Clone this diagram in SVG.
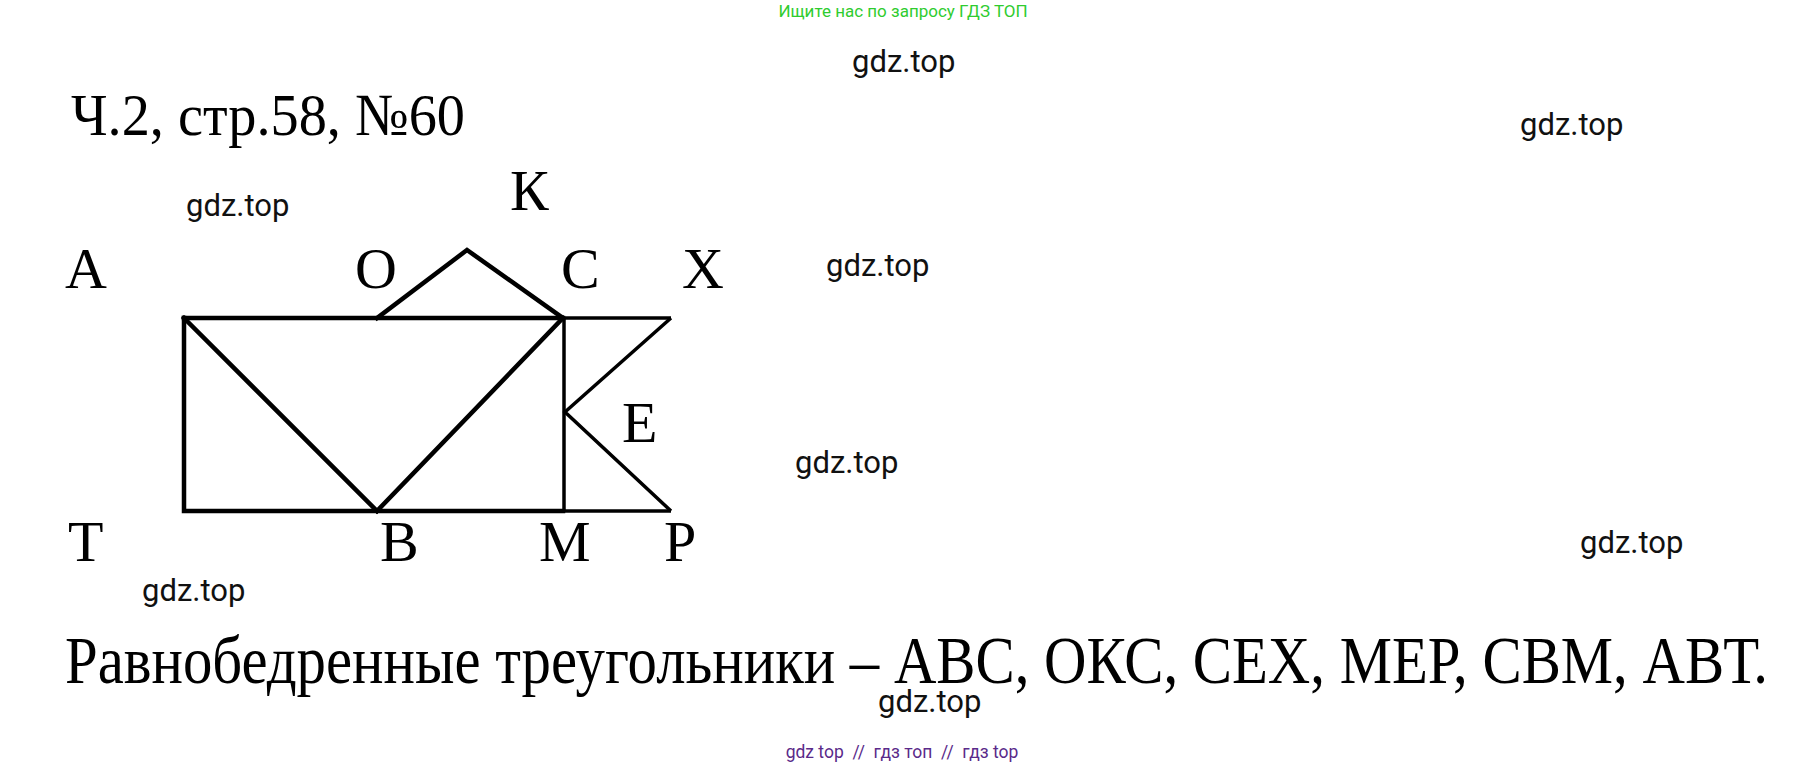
<svg xmlns="http://www.w3.org/2000/svg" width="1807" height="767" viewBox="0 0 1807 767">
<style>
.lbl{font-family:"Liberation Serif","Times New Roman",serif;font-size:58px;fill:#000}
.wm{font-family:Roboto,"Liberation Sans",sans-serif;font-size:31px;fill:#111}
.ln{stroke:#000;stroke-width:4.5;fill:none;stroke-linecap:square;stroke-linejoin:miter}
.ln2{stroke:#000;stroke-width:3.5;fill:none;stroke-linecap:butt}
</style>
<rect width="1807" height="767" fill="#fff"/>
<text x="903" y="17" text-anchor="middle" font-family="Roboto,'Liberation Sans',sans-serif" font-size="17" fill="#2fcc2f">Ищите нас по запросу ГДЗ ТОП</text>
<text x="71" y="135" font-family="'Liberation Serif','Times New Roman',serif" font-size="60" fill="#000" textLength="394" lengthAdjust="spacingAndGlyphs">Ч.2, стр.58, №60</text>
<g id="connectors">
<polyline class="ln" points="184,318 563,318"/>
<polyline class="ln" points="184,318 184,511 563,511"/>
<line class="ln" x1="184" y1="318" x2="377" y2="511"/>
<line class="ln" x1="563" y1="318" x2="377" y2="511"/>
<polyline class="ln" points="377,318 467,250 563,318"/>
<line class="ln2" x1="564" y1="318" x2="564" y2="511"/>
<line class="ln2" x1="563" y1="318" x2="671" y2="318"/>
<polyline class="ln2" points="671,318 565,412 671,511"/>
<line class="ln2" x1="563" y1="511" x2="671" y2="511"/>
</g>
<g id="node-A"><text class="lbl" x="65" y="288">А</text></g>
<g id="node-O"><text class="lbl" x="355" y="288">О</text></g>
<g id="node-C"><text class="lbl" x="561" y="288">С</text></g>
<g id="node-X"><text class="lbl" x="682" y="288">Х</text></g>
<g id="node-K"><text class="lbl" x="510" y="210">К</text></g>
<g id="node-E"><text class="lbl" x="622" y="442">Е</text></g>
<g id="node-T"><text class="lbl" x="68" y="561">Т</text></g>
<g id="node-B"><text class="lbl" x="380" y="561">В</text></g>
<g id="node-M"><text class="lbl" x="539" y="561">М</text></g>
<g id="node-P"><text class="lbl" x="664" y="561">Р</text></g>
<text x="65" y="683" font-family="'Liberation Serif','Times New Roman',serif" font-size="68" fill="#000" textLength="1703" lengthAdjust="spacingAndGlyphs">Равнобедренные треугольники – АВС, ОКС, СЕХ, МЕР, СВМ, АВТ.</text>
<text class="wm" x="852" y="72">gdz.top</text>
<text class="wm" x="1520" y="135">gdz.top</text>
<text class="wm" x="186" y="216">gdz.top</text>
<text class="wm" x="826" y="276">gdz.top</text>
<text class="wm" x="795" y="473">gdz.top</text>
<text class="wm" x="1580" y="553">gdz.top</text>
<text class="wm" x="142" y="601">gdz.top</text>
<text class="wm" x="878" y="712">gdz.top</text>
<text x="902" y="758" text-anchor="middle" font-family="Roboto,'Liberation Sans',sans-serif" font-size="17.5" fill="#5a2a8a" xml:space="preserve">gdz top  //  гдз топ  //  гдз top</text>
</svg>
